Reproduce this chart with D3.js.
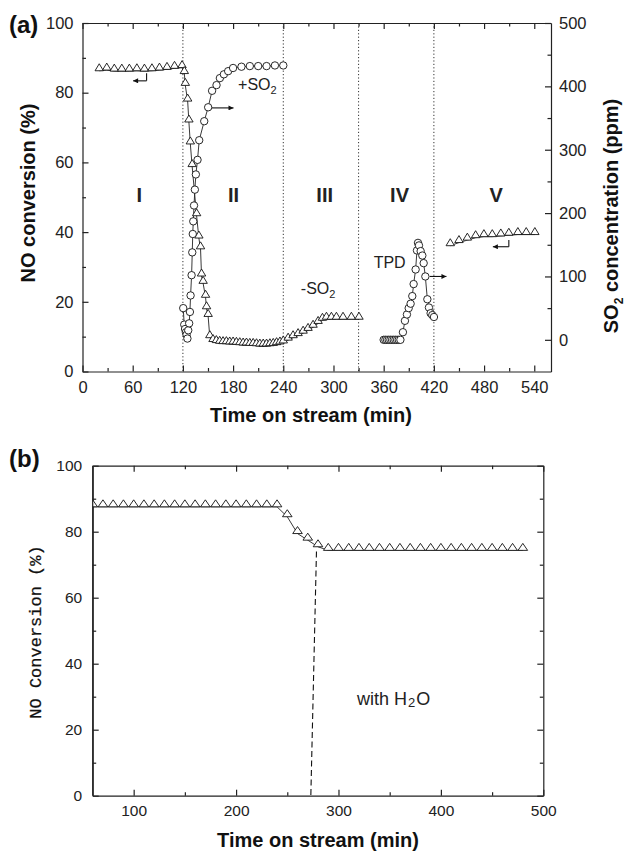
<!DOCTYPE html>
<html>
<head>
<meta charset="utf-8">
<title>NO conversion with SO2 and H2O</title>
<script src="https://cdnjs.cloudflare.com/ajax/libs/d3/7.8.5/d3.min.js"></script>
<style>
  html, body { margin:0; padding:0; background:#fff; }
  svg { display:block; font-family:"Liberation Sans", Arial, sans-serif; }
  .axis path, .axis line { stroke:#222; stroke-width:1.2px; }
  .axis text { fill:#222; font-family:"Liberation Sans", Arial, sans-serif; }
  .title { font-weight:bold; fill:#111; }
  .note { fill:#222; }
  .phase { font-weight:bold; fill:#222; text-anchor:middle; }
</style>
</head>
<body>
<svg id="chart"></svg>
<script>
// ---------- panel (a) data ----------
// NO conversion (%) - triangles, sections I to III
var triTimeA = [20,29,38,47,56,65,74,83,92,101,110,119,
  121.7,122.9,125.7,127.2,128.9,131.1,136.4,139.1,141.1,142.3,144.2,147.1,148.3,150.2,152.2,
  156,160,164,168,172,176,180,184,188,192,196,200,204,208,212,216,220,224,228,232,236,240,
  245.8,251.7,257.7,263.7,269.6,275.6,281.6,286.8,291.6,297.5,303.5,311.4,321.4,330.5];
var triNoA = [87.3,87.5,87.2,87.2,87.2,87.3,87.2,87.3,87.5,87.7,88,88.2,
  86.5,83.1,78.6,72.6,66.3,59.8,45.7,39.3,36.2,28.4,26.3,22.3,19.0,16.8,10.7,
  9.6,9.3,9.1,9.0,9.0,8.9,8.9,8.8,8.7,8.6,8.6,8.5,8.5,8.4,8.3,8.3,8.3,8.4,8.5,8.7,8.9,9.2,
  10.0,10.7,11.3,12.0,12.8,13.7,14.8,15.7,16.0,16.0,16.0,16.0,16.0,16.0];
// NO conversion (%) - triangles, section V
var triTimeV = [439.6,450,460,469.9,479.8,489.8,500,509.6,520.4,530.4,540.7];
var triNoV = [37.1,38.0,38.7,39.4,39.7,39.7,39.9,40.1,40.3,40.3,40.3];
// SO2 concentration (ppm) - circles, section II (+SO2)
var circTimeII = [120.4,121.6,122.6,123.6,124.4,125.4,126.4,127.5,128.4,129.2,130.4,131.2,131.8,132.4,133.3,134.3,
  135.5,137.5,139.5,145.5,150.2,154.9,160.2,164.2,169,174.1,180,190,200,210,220,230,240];
var circSo2II = [50,24,17,12,8,2,15,26,44,70,102,138,167,187,212,237,
  261,284,315,345,367,393,402,413,419,424,429,431,432,432,432,433,433];
// SO2 concentration (ppm) - circles, section IV (TPD)
var circTimeIV = [360,362,364,366,368,370,372,374,376,378,380,383,385.4,387.8,389.9,392.2,394.2,395.8,
  398.2,399.8,401,402.2,404.2,406.2,407.8,409.8,412.2,414.1,416.1,418.1,420.1];
var circSo2IV = [0,0,0,0,0,0,0,0,0,0,0,12,30,40,50,57,69,88,
  111,141,153,149,140,133,121,100,64,51,42,39,36];

var xTicksA = [0,60,120,180,240,300,360,420,480,540];
var noTicks = [0,20,40,60,80,100];
var so2Ticks = [0,100,200,300,400,500];
var phaseNames = ["I","II","III","IV","V"];
var phaseTimes = [68,180.5,289.5,379,494.5];
var phaseBounds = [120,240,330,420];

// ---------- panel (b) data ----------
var bTime = [60,70,80,90,100,110,120,130,140,150,160,170,180,190,200,210,220,230,240,
  250,260,270,280,290,300,310,320,330,340,350,360,370,380,390,400,410,420,430,440,450,460,470,480];
var bNo = [88.6,88.6,88.6,88.6,88.6,88.6,88.6,88.6,88.6,88.6,88.6,88.6,88.6,88.6,88.6,88.6,88.6,88.6,88.6,
  85.6,80.5,78.5,76.5,75.4,75.4,75.4,75.4,75.4,75.4,75.4,75.4,75.4,75.4,75.4,75.4,75.4,75.4,75.4,75.4,75.4,75.4,75.4,75.4];
var xTicksB = [100,200,300,400,500];
var yTicksB = [0,20,40,60,80,100];

var svg = d3.select("#chart").attr("width", 625).attr("height", 852);
var defs = svg.append("defs");

defs.append("marker")
    .attr("id", "ah")
    .attr("viewBox", "0 0 10 10")
    .attr("refX", 10).attr("refY", 5)
    .attr("markerWidth", 8).attr("markerHeight", 5)
    .attr("markerUnits", "userSpaceOnUse")
    .attr("orient", "auto")
  .append("path")
    .attr("d", "M0,0L10,5L0,10Z")
    .attr("fill", "#111");

function triPath(cx, cy, w, h) {
  return "M" + (cx - w/2) + "," + (cy + h/2) + "L" + cx + "," + (cy - h/2) +
         "L" + (cx + w/2) + "," + (cy + h/2) + "Z";
}

function labelSize(px) {
  return function(g) {
    g.attr("font-size", null).attr("font-family", null);
    g.selectAll("text").style("font-size", px + "px");
  };
}

// ================= panel (a) =================
var ax = d3.scaleLinear().domain([0, 560]).range([82.5, 551]);
var ayNo = d3.scaleLinear().domain([0, 100]).range([371.5, 23]);
var aySo2 = d3.scaleLinear().domain([-50, 500]).range([371.5, 23]);
var ga = svg.append("g");

// phase separators
ga.selectAll(".sep").data(phaseBounds).enter().append("line")
  .attr("x1", d => ax(d)).attr("x2", d => ax(d))
  .attr("y1", ayNo(100)).attr("y2", ayNo(0))
  .attr("stroke", "#333").attr("stroke-width", 1)
  .attr("stroke-dasharray", "1.2,2.2");

// axes
ga.append("g").attr("class", "axis").attr("transform", "translate(0," + ayNo(0) + ")")
  .call(d3.axisBottom(ax).tickValues(xTicksA).tickSize(-6).tickSizeOuter(0).tickPadding(10).tickFormat(d3.format("d")))
  .call(labelSize(16.5));
ga.append("g").attr("class", "axis").attr("transform", "translate(0," + ayNo(0) + ")")
  .call(d3.axisBottom(ax).tickValues(d3.range(30, 560, 60)).tickSize(-3.5).tickFormat(""))
  .call(g => g.select(".domain").remove());
ga.append("g").attr("class", "axis").attr("transform", "translate(0," + ayNo(100) + ")")
  .call(d3.axisTop(ax).tickValues(xTicksA).tickSize(-6).tickSizeOuter(0).tickFormat(""));
ga.append("g").attr("class", "axis").attr("transform", "translate(0," + ayNo(100) + ")")
  .call(d3.axisTop(ax).tickValues(d3.range(30, 560, 60)).tickSize(-3.5).tickFormat(""))
  .call(g => g.select(".domain").remove());
ga.append("g").attr("class", "axis").attr("transform", "translate(" + ax(0) + ",0)")
  .call(d3.axisLeft(ayNo).tickValues(noTicks).tickSize(-6).tickSizeOuter(0).tickPadding(9))
  .call(labelSize(16.5));
ga.append("g").attr("class", "axis").attr("transform", "translate(" + ax(0) + ",0)")
  .call(d3.axisLeft(ayNo).tickValues(d3.range(10, 100, 20)).tickSize(-3.5).tickFormat(""))
  .call(g => g.select(".domain").remove());
ga.append("g").attr("class", "axis").attr("transform", "translate(" + ax(560) + ",0)")
  .call(d3.axisRight(aySo2).tickValues(so2Ticks).tickSize(-6).tickSizeOuter(0).tickPadding(8))
  .call(labelSize(16.5));
ga.append("g").attr("class", "axis").attr("transform", "translate(" + ax(560) + ",0)")
  .call(d3.axisRight(aySo2).tickValues(d3.range(50, 500, 100)).tickSize(-3.5).tickFormat(""))
  .call(g => g.select(".domain").remove());

// lines
var triH = 7, triW = 8.4;
var lineNo = d3.line().x(d => ax(d[0])).y(d => ayNo(d[1]) + triH/2);
var lineSo2 = d3.line().x(d => ax(d[0])).y(d => aySo2(d[1]));
var triA = d3.zip(triTimeA, triNoA), triV = d3.zip(triTimeV, triNoV);
var cII = d3.zip(circTimeII, circSo2II), cIV = d3.zip(circTimeIV, circSo2IV);

[triA, triV].forEach(function(s) {
  ga.append("path").attr("d", lineNo(s)).attr("fill", "none").attr("stroke", "#222").attr("stroke-width", 0.9);
});
[cII, cIV].forEach(function(s) {
  ga.append("path").attr("d", lineSo2(s)).attr("fill", "none").attr("stroke", "#222").attr("stroke-width", 0.9);
});

// symbols
ga.selectAll(".tri").data(triA.concat(triV)).enter().append("path")
  .attr("d", d => triPath(ax(d[0]), ayNo(d[1]), triW, triH))
  .attr("fill", "#fff").attr("stroke", "#111").attr("stroke-width", 0.9);
ga.selectAll(".circ").data(cII.concat(cIV)).enter().append("circle")
  .attr("cx", d => ax(d[0])).attr("cy", d => aySo2(d[1])).attr("r", 3.7)
  .attr("fill", "#fff").attr("stroke", "#111").attr("stroke-width", 0.9);

// phase labels
ga.selectAll(".phase").data(phaseNames).enter().append("text")
  .attr("class", "phase").style("font-size", "20px")
  .attr("x", (d, i) => ax(phaseTimes[i])).attr("y", ayNo(48.5))
  .text(d => d);

// arrows pointing to axes
function hookArrow(x0, x1, yv, ytop) {
  ga.append("line").attr("x1", ax(x0)).attr("x2", ax(x0))
    .attr("y1", ayNo(yv)).attr("y2", ayNo(ytop)).attr("stroke", "#111").attr("stroke-width", 1.1);
  ga.append("line").attr("x1", ax(x0)).attr("x2", ax(x1))
    .attr("y1", ayNo(yv)).attr("y2", ayNo(yv)).attr("stroke", "#111").attr("stroke-width", 1.1)
    .attr("marker-end", "url(#ah)");
}
hookArrow(76.6, 60.5, 83.4, 85.6);
hookArrow(509.6, 490.5, 35.8, 37.7);

function rightArrow(x0, x1, v) {
  ga.append("line").attr("x1", ax(x0)).attr("x2", ax(x1))
    .attr("y1", aySo2(v)).attr("y2", aySo2(v)).attr("stroke", "#111").attr("stroke-width", 1.1)
    .attr("marker-end", "url(#ah)");
}
rightArrow(154.6, 180.5, 366);
rightArrow(415, 435, 100);

// notes
var t1 = ga.append("text").attr("class", "note").style("font-size", "16px").attr("x", ax(186)).attr("y", aySo2(395));
t1.append("tspan").text("+SO");
t1.append("tspan").attr("dy", 4).style("font-size", "11px").text("2");
var t2 = ga.append("text").attr("class", "note").style("font-size", "16px").attr("x", ax(261)).attr("y", ayNo(22.2));
t2.append("tspan").text("-SO");
t2.append("tspan").attr("dy", 4).style("font-size", "11px").text("2");
ga.append("text").attr("class", "note").style("font-size", "16px").attr("x", ax(348)).attr("y", aySo2(113)).text("TPD");

// titles
ga.append("text").attr("class", "title").style("font-size", "20px").attr("text-anchor", "middle")
  .attr("x", 311).attr("y", 422).text("Time on stream (min)");
ga.append("text").attr("class", "title").style("font-size", "20px").attr("text-anchor", "middle")
  .attr("transform", "translate(35," + 193 + ") rotate(-90)").text("NO conversion (%)");
var rt = ga.append("text").attr("class", "title").style("font-size", "20px").attr("text-anchor", "middle")
  .attr("transform", "translate(617.5," + 216 + ") rotate(-90)");
rt.append("tspan").text("SO");
rt.append("tspan").attr("dy", 5).style("font-size", "12px").text("2");
rt.append("tspan").attr("dy", -5).text(" concentration (ppm)");
ga.append("text").attr("class", "title").style("font-size", "24px").attr("x", 9).attr("y", 33).text("(a)");

// ================= panel (b) =================
var bx = d3.scaleLinear().domain([60, 500]).range([92.7, 543.3]);
var by = d3.scaleLinear().domain([0, 100]).range([795.7, 465.7]);
var gb = svg.append("g");

defs.append("clipPath").attr("id", "clipB").append("rect")
  .attr("x", bx(60)).attr("y", by(100)).attr("width", bx(500) - bx(60)).attr("height", by(0) - by(100));

gb.append("g").attr("class", "axis").attr("transform", "translate(0," + by(0) + ")")
  .call(d3.axisBottom(bx).tickValues(xTicksB).tickSize(-6).tickSizeOuter(0).tickPadding(9.5))
  .call(labelSize(15.5));
gb.append("g").attr("class", "axis").attr("transform", "translate(0," + by(0) + ")")
  .call(d3.axisBottom(bx).tickValues([150, 250, 350, 450]).tickSize(-3.5).tickFormat(""))
  .call(g => g.select(".domain").remove());
gb.append("g").attr("class", "axis").attr("transform", "translate(0," + by(100) + ")")
  .call(d3.axisTop(bx).tickValues(xTicksB).tickSize(-6).tickSizeOuter(0).tickFormat(""));
gb.append("g").attr("class", "axis").attr("transform", "translate(0," + by(100) + ")")
  .call(d3.axisTop(bx).tickValues([150, 250, 350, 450]).tickSize(-3.5).tickFormat(""))
  .call(g => g.select(".domain").remove());
gb.append("g").attr("class", "axis").attr("transform", "translate(" + bx(60) + ",0)")
  .call(d3.axisLeft(by).tickValues(yTicksB).tickSize(-6).tickSizeOuter(0).tickPadding(10.5))
  .call(labelSize(15.5));
gb.append("g").attr("class", "axis").attr("transform", "translate(" + bx(60) + ",0)")
  .call(d3.axisLeft(by).tickValues(d3.range(10, 100, 20)).tickSize(-3.5).tickFormat(""))
  .call(g => g.select(".domain").remove());
gb.append("g").attr("class", "axis").attr("transform", "translate(" + bx(500) + ",0)")
  .call(d3.axisRight(by).tickValues(yTicksB).tickSize(-6).tickSizeOuter(0).tickFormat(""));
gb.append("g").attr("class", "axis").attr("transform", "translate(" + bx(500) + ",0)")
  .call(d3.axisRight(by).tickValues(d3.range(10, 100, 20)).tickSize(-3.5).tickFormat(""))
  .call(g => g.select(".domain").remove());

// dashed marker line where water is added
gb.append("line")
  .attr("x1", bx(278.5)).attr("y1", by(74))
  .attr("x2", bx(273)).attr("y2", by(0))
  .attr("stroke", "#111").attr("stroke-width", 1.1).attr("stroke-dasharray", "6,3.5");

var tbW = 9.6, tbH = 7;
var sB = d3.zip(bTime, bNo);
var gbData = gb.append("g").attr("clip-path", "url(#clipB)");
gbData.append("path")
  .attr("d", d3.line().x(d => bx(d[0])).y(d => by(d[1]) + tbH/2)(sB))
  .attr("fill", "none").attr("stroke", "#222").attr("stroke-width", 0.9);
gbData.selectAll(".tri").data(sB).enter().append("path")
  .attr("d", d => triPath(bx(d[0]), by(d[1]), tbW, tbH))
  .attr("fill", "#fff").attr("stroke", "#111").attr("stroke-width", 0.9);
gb.append("line").attr("x1", bx(60)).attr("x2", bx(60)).attr("y1", by(100)).attr("y2", by(0))
  .attr("stroke", "#222").attr("stroke-width", 1.2);

var tw = gb.append("text").attr("class", "note").style("font-size", "18px")
  .attr("x", bx(318)).attr("y", by(27.5));
tw.append("tspan").text("with H");
tw.append("tspan").attr("dx", 1).attr("dy", 2).style("font-size", "13px").text("2");
tw.append("tspan").attr("dx", 1).attr("dy", -2).text("O");

gb.append("text").attr("class", "title").style("font-size", "20px").attr("text-anchor", "middle")
  .attr("x", 318).attr("y", 847).text("Time on stream (min)");
gb.append("text").attr("text-anchor", "middle")
  .attr("font-family", "'Liberation Mono', 'DejaVu Sans Mono', monospace")
  .style("font-size", "17px").attr("fill", "#111")
  .attr("stroke", "#111").attr("stroke-width", 0.25)
  .attr("transform", "translate(41," + 632 + ") rotate(-90)")
  .text("NO Conversion (%)");
gb.append("text").attr("class", "title").style("font-size", "24px").attr("x", 9).attr("y", 467).text("(b)");
</script>
</body>
</html>
